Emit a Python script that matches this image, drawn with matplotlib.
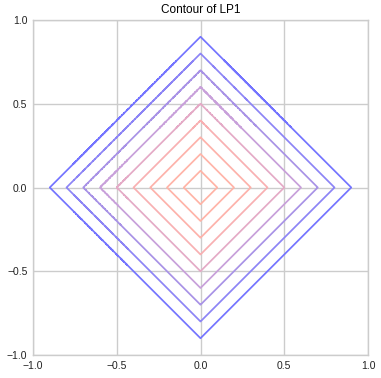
import numpy as np
import matplotlib
matplotlib.use("Agg")
import matplotlib.pyplot as plt

title = "Contour of LP1"
levels = [0.1, 0.2, 0.3, 0.4, 0.5, 0.6, 0.7, 0.8, 0.9]
p_norm = 1
ticks = [-1.0, -0.5, 0.0, 0.5, 1.0]

line_colors = ["#ffb4a6", "#ffb4a8", "#fdb2aa", "#f8b0b2", "#e4aac6",
               "#c8a0da", "#a892e6", "#8c84f6", "#7474ff"]

plt.rcParams['font.family'] = ['Liberation Sans', 'DejaVu Sans']
plt.rcParams['axes.unicode_minus'] = True

fig = plt.figure(figsize=(3.81, 3.78), dpi=100)
ax = fig.add_axes([33/381, 23/378, 335/381, 335/378])

xs = np.linspace(-1, 1, 801)
X, Y = np.meshgrid(xs, xs)
Z = (np.abs(X) ** p_norm + np.abs(Y) ** p_norm) ** (1.0 / p_norm)

ax.contour(X, Y, Z, levels=levels, colors=line_colors, linewidths=1.25)

ax.set_xlim(-1, 1)
ax.set_ylim(-1, 1)
ax.set_xticks(ticks)
ax.set_yticks(ticks)
ax.set_facecolor("white")
ax.grid(True, color="#cccccc", linewidth=1.0)
ax.set_axisbelow(True)
for s in ax.spines.values():
    s.set_color("#cccccc")
    s.set_linewidth(1.0)
ax.tick_params(length=0, labelsize=7.5, pad=4, colors="#222222")
ax.set_title(title, fontsize=8.5, pad=5)

fig.savefig("out.png", dpi=100)
